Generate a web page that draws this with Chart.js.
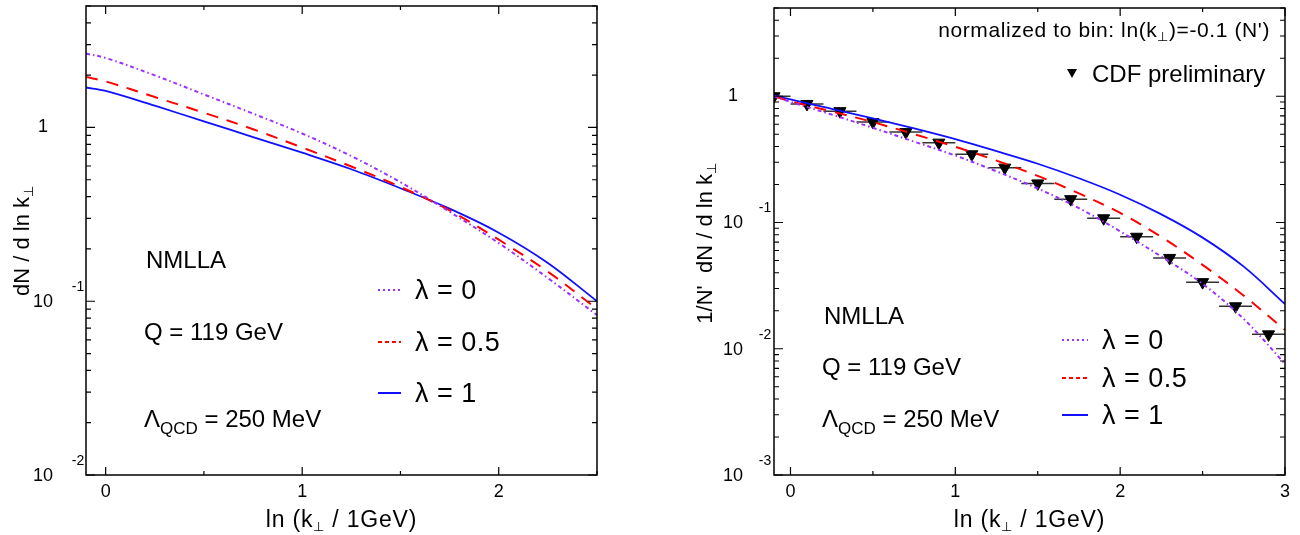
<!DOCTYPE html>
<html>
<head>
<meta charset="utf-8">
<script src="https://cdn.jsdelivr.net/npm/chart.js@4.4.1/dist/chart.umd.min.js"></script>
<style>
  html, body { margin: 0; padding: 0; background: #fff; }
  #wrap { position: relative; width: 1300px; height: 535px; }
  .panel { position: absolute; top: 0; width: 650px; height: 535px; }
</style>
</head>
<body>
<div id="wrap">
  <div class="panel" style="left:0"><canvas id="left" width="650" height="535"></canvas></div>
  <div class="panel" style="left:650px"><canvas id="right" width="650" height="535"></canvas></div>
</div>
<script>
// left panel: dN / d ln k_perp
const leftX     = [-0.1, 0, 0.25, 0.5, 0.75, 1, 1.25, 1.5, 1.75, 2, 2.25, 2.5]
const leftLam0  = [2.661, 2.512, 1.995, 1.549, 1.202, 0.923, 0.684, 0.484, 0.327, 0.216, 0.136, 0.0832]
const leftLam05 = [1.950, 1.841, 1.496, 1.216, 0.977, 0.767, 0.596, 0.455, 0.333, 0.226, 0.148, 0.0902]
const leftLam1  = [1.698, 1.622, 1.334, 1.084, 0.881, 0.716, 0.575, 0.447, 0.341, 0.248, 0.166, 0.100]

// right panel: normalized to bin ln(k_perp) = -0.1
const rightX     = [-0.1, 0, 0.25, 0.5, 0.75, 1, 1.25, 1.5, 1.75, 2, 2.25, 2.5, 2.75, 3]
const rightLam0  = [1.0, 0.902, 0.716, 0.562, 0.437, 0.339, 0.254, 0.186, 0.130, 0.0851, 0.0537, 0.0327, 0.0172, 0.00759]
const rightLam05 = [1.0, 0.912, 0.759, 0.624, 0.501, 0.398, 0.309, 0.234, 0.170, 0.119, 0.0767, 0.0462, 0.0263, 0.0141]
const rightLam1  = [1.023, 0.944, 0.794, 0.668, 0.556, 0.457, 0.367, 0.292, 0.224, 0.166, 0.116, 0.0759, 0.0447, 0.0226]

// CDF preliminary points (bin half width 0.1)
const cdfX    = [-0.1, 0.1, 0.3, 0.5, 0.7, 0.9, 1.1, 1.3, 1.5, 1.7, 1.9, 2.1, 2.3, 2.5, 2.7, 2.9]
const cdfY    = [1.0, 0.869, 0.762, 0.624, 0.520, 0.429, 0.347, 0.272, 0.204, 0.153, 0.108, 0.0771, 0.0524, 0.0337, 0.0217, 0.0130]
const cdfHalf = 0.1

const lambdaLabels  = ['\u03bb = 0', '\u03bb = 0.5', '\u03bb = 1']
const leftXTicks    = [0, 1, 2]
const rightXTicks   = [0, 1, 2, 3]
const leftYDecades  = [-2, -1, 0]
const rightYDecades = [-3, -2, -1, 0]

const FONT   = '"Liberation Sans", Arial, Helvetica, sans-serif'
const PURPLE = '#9b30ff'
const RED    = '#ff0000'
const BLUE   = '#1010ff'
const DASH0  = [4, 3, 1.5, 3]
const DASH05 = [12, 9]

const pts = (xs, ys) => xs.map((x, i) => ({ x, y: ys[i] }))

function curve(label, xs, ys, color, dash) {
  return {
    label, data: pts(xs, ys), showLine: true, pointRadius: 0,
    borderColor: color, borderWidth: dash ? 2 : 1.8, borderDash: dash || [],
    tension: 0.35, fill: false,
  }
}

// parts: [text, size, dy]; spacing in px between letters
function rich(ctx, parts, x, y, align, spacing) {
  ctx.letterSpacing = (spacing || 0) + 'px'
  let w = 0
  const ws = parts.map(([t, s]) => { ctx.font = s + 'px ' + FONT; const m = ctx.measureText(t).width; w += m; return m })
  let cx = align === 'right' ? x - w : align === 'center' ? x - w / 2 : x
  parts.forEach(([t, s, dy], i) => {
    ctx.font = s + 'px ' + FONT
    ctx.fillText(t, cx, y + (dy || 0))
    cx += ws[i]
  })
  ctx.letterSpacing = '0px'
}

function framePlugin(p) {
  return {
    id: 'frame',
    beforeDatasetsDraw(chart) {
      if (!p.errors) return
      const { ctx, chartArea: a, scales: { x, y } } = chart
      ctx.save()
      ctx.beginPath(); ctx.rect(a.left, a.top, a.width, a.height); ctx.clip()
      ctx.strokeStyle = '#333'; ctx.lineWidth = 1.5
      cdfX.forEach((v, i) => {
        const py = y.getPixelForValue(cdfY[i])
        ctx.beginPath()
        ctx.moveTo(x.getPixelForValue(v - cdfHalf), py)
        ctx.lineTo(x.getPixelForValue(v + cdfHalf), py)
        ctx.stroke()
      })
      ctx.restore()
    },
    afterDraw(chart) {
      const { ctx, chartArea: a, scales: { x, y } } = chart
      ctx.save()
      ctx.strokeStyle = '#000'; ctx.fillStyle = '#000'; ctx.lineWidth = 1.5
      ctx.strokeRect(a.left, a.top, a.width, a.height)
      ctx.lineWidth = 1.2

      // x ticks, inside, bottom and top: major every 1, minor every 0.5
      for (let v = Math.ceil(p.xMin * 2) / 2; v <= p.xMax + 1e-9; v += 0.5) {
        const px = x.getPixelForValue(v)
        const len = Math.abs(v - Math.round(v)) < 1e-9 ? 8 : 4
        ctx.beginPath()
        ctx.moveTo(px, a.bottom); ctx.lineTo(px, a.bottom - len)
        ctx.moveTo(px, a.top);    ctx.lineTo(px, a.top + len)
        ctx.stroke()
      }
      // y ticks, log
      p.yDecades.concat([p.yDecades[p.yDecades.length - 1] + 1]).forEach(d => {
        for (let m = 1; m <= 9; m++) {
          const v = m * Math.pow(10, d)
          if (v < y.min * 0.999 || v > y.max * 1.001) continue
          const py = y.getPixelForValue(v)
          const len = m === 1 ? 9 : 5
          ctx.beginPath()
          ctx.moveTo(a.left, py);  ctx.lineTo(a.left + len, py)
          ctx.moveTo(a.right, py); ctx.lineTo(a.right - len, py)
          ctx.stroke()
        }
      })

      // tick labels
      ctx.textAlign = 'center'; ctx.textBaseline = 'alphabetic'
      ctx.font = '18px ' + FONT
      p.xTicks.forEach(v => ctx.fillText(String(v), x.getPixelForValue(v), 497))
      p.yDecades.forEach(d => {
        const py = y.getPixelForValue(Math.pow(10, d))
        ctx.textBaseline = 'middle'
        ctx.font = '18px ' + FONT
        if (d === 0) {
          ctx.fillText('1', p.labX, py)
        } else {
          ctx.fillText('10', p.labX, py + 1)
          ctx.font = '14px ' + FONT
          ctx.fillText(String(d), p.supX, py - 14)
        }
      })

      // axis titles
      ctx.textAlign = 'left'; ctx.textBaseline = 'alphabetic'
      rich(ctx, [['ln (k', 23], ['\u22a5', 13, 4], [' / 1GeV)', 23]], (a.left + a.right) / 2, 527, 'center', 0.8)
      ctx.save()
      ctx.translate(p.yTitleX, p.yTitleEnd)
      ctx.rotate(-Math.PI / 2)
      rich(ctx, [[p.yTitle, 22], ['\u22a5', 13, 4]], 0, 0, 'right')
      ctx.restore()

      // annotations
      rich(ctx, [['NMLLA', 24]], p.note[0], p.note[1])
      rich(ctx, [['Q = 119 GeV', 24]], p.note[0] - 2, p.note[2])
      rich(ctx, [['\u039b', 24], ['QCD', 17, 7], [' = 250 MeV', 24]], p.note[0] - 2, p.note[3])

      // legend of lambda curves
      const styles = [[PURPLE, [2, 3]], [RED, [4, 3]], [BLUE, []]]
      p.leg.rows.forEach((ry, i) => {
        ctx.strokeStyle = styles[i][0]; ctx.lineWidth = 2; ctx.setLineDash(styles[i][1])
        ctx.beginPath(); ctx.moveTo(p.leg.x0, ry); ctx.lineTo(p.leg.x1, ry); ctx.stroke()
        ctx.setLineDash([])
        rich(ctx, [[lambdaLabels[i], 27]], p.leg.tx, ry + 9, 'left', 0.5)
      })

      if (p.extra) p.extra(ctx)
      ctx.restore()
    },
  }
}

function makePanel(id, p, datasets) {
  return new Chart(document.getElementById(id), {
    type: 'scatter',
    data: { datasets },
    options: {
      responsive: false, animation: false, devicePixelRatio: 1,
      layout: { padding: p.pad },
      plugins: { legend: { display: false }, tooltip: { enabled: false } },
      scales: {
        x: { type: 'linear', min: p.xMin, max: p.xMax, display: false },
        y: { type: 'logarithmic', min: p.yMin, max: p.yMax, display: false },
      },
    },
    plugins: [framePlugin(p)],
  })
}

makePanel('left', {
  pad: { left: 86, top: 6, right: 53, bottom: 60 },
  xMin: -0.1, xMax: 2.5, yMin: 0.01, yMax: 5,
  xTicks: leftXTicks, yDecades: leftYDecades,
  labX: 43, supX: 78, yTitleX: 29, yTitleEnd: 186, yTitle: 'dN / d ln k',
  note: [146, 268, 340, 427],
  leg: { x0: 378, x1: 401, tx: 415, rows: [290, 342, 393] },
}, [
  curve('\u03bb = 0', leftX, leftLam0, PURPLE, DASH0),
  curve('\u03bb = 0.5', leftX, leftLam05, RED, DASH05),
  curve('\u03bb = 1', leftX, leftLam1, BLUE),
])

makePanel('right', {
  pad: { left: 124, top: 6, right: 15, bottom: 60 },
  xMin: -0.1, xMax: 3, yMin: 0.001, yMax: 5,
  xTicks: rightXTicks, yDecades: rightYDecades,
  labX: 83, supX: 115, yTitleX: 62, yTitleEnd: 163, yTitle: "1/N'  dN / d ln k",
  note: [174, 324, 375, 427],
  leg: { x0: 412, x1: 438, tx: 452, rows: [340, 378, 415] },
  errors: true,
  extra(ctx) {
    ctx.fillStyle = '#000'
    rich(ctx, [['normalized to bin: ln(k', 21], ['\u22a5', 13, 4], [")=-0.1 (N')", 21]], 620, 37, 'right', 0.6)
    // CDF legend marker
    ctx.beginPath()
    ctx.moveTo(417, 69); ctx.lineTo(427, 69); ctx.lineTo(422, 78); ctx.closePath(); ctx.fill()
    rich(ctx, [['CDF preliminary', 24]], 442, 82)
  },
}, [
  curve('\u03bb = 0', rightX, rightLam0, PURPLE, DASH0),
  curve('\u03bb = 0.5', rightX, rightLam05, RED, DASH05),
  curve('\u03bb = 1', rightX, rightLam1, BLUE),
  {
    label: 'CDF preliminary', data: pts(cdfX, cdfY), showLine: false,
    pointStyle: 'triangle', rotation: 180, pointRadius: 7,
    backgroundColor: '#000', borderColor: '#000', borderWidth: 1,
  },
])
</script>
</body>
</html>
